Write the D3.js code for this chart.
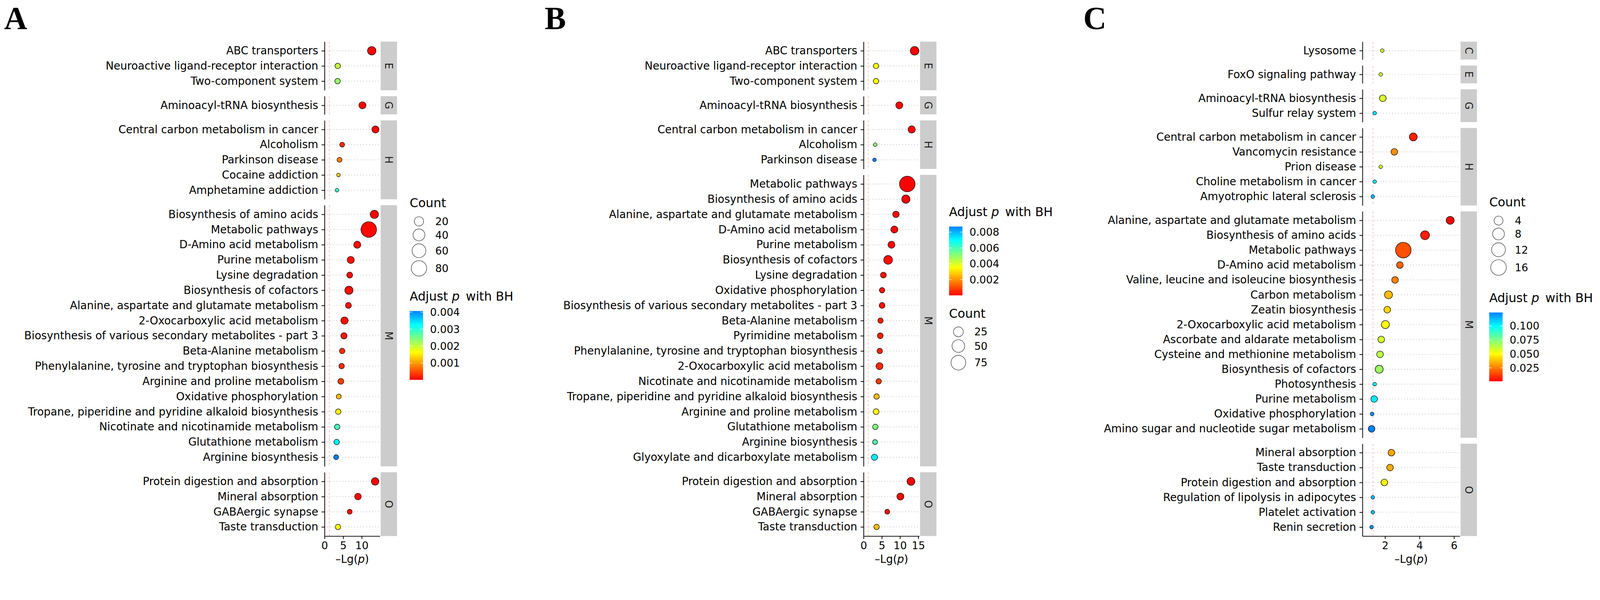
<!DOCTYPE html>
<html lang="en">
<head>
<meta charset="UTF-8">
<title>KEGG enrichment dot plots</title>
<script src="https://cdn.jsdelivr.net/npm/d3@7"></script>
<style>
    html, body { margin: 0; padding: 0; background: #fff; overflow: hidden; }
    svg { display: block; width: 100%; height: auto; }
    svg text { font-family: "DejaVu Sans", sans-serif; fill: #000; }
</style>
</head>
<body>
<script>
	// ---- panel A ----
	var aTerms = ["ABC transporters", "Neuroactive ligand-receptor interaction", "Two-component system",
		"Aminoacyl-tRNA biosynthesis",
		"Central carbon metabolism in cancer", "Alcoholism", "Parkinson disease", "Cocaine addiction", "Amphetamine addiction",
		"Biosynthesis of amino acids", "Metabolic pathways", "D-Amino acid metabolism", "Purine metabolism",
		"Lysine degradation", "Biosynthesis of cofactors", "Alanine, aspartate and glutamate metabolism",
		"2-Oxocarboxylic acid metabolism", "Biosynthesis of various secondary metabolites - part 3",
		"Beta-Alanine metabolism", "Phenylalanine, tyrosine and tryptophan biosynthesis",
		"Arginine and proline metabolism", "Oxidative phosphorylation",
		"Tropane, piperidine and pyridine alkaloid biosynthesis", "Nicotinate and nicotinamide metabolism",
		"Glutathione metabolism", "Arginine biosynthesis",
		"Protein digestion and absorption", "Mineral absorption", "GABAergic synapse", "Taste transduction"];
	var aClass = ["E", "E", "E", "G", "H", "H", "H", "H", "H",
		"M", "M", "M", "M", "M", "M", "M", "M", "M", "M", "M", "M", "M", "M", "M", "M", "M",
		"O", "O", "O", "O"];
	var aLgP = [12.7, 3.55, 3.5, 10.2, 13.7, 4.74, 4.04, 3.76, 3.34,
		13.4, 11.9, 8.8, 7.05, 6.77, 6.56, 6.42, 5.37, 5.23, 4.74, 4.6, 4.39, 3.83, 3.68, 3.4, 3.26, 3.12,
		13.6, 9.0, 6.77, 3.62];
	var aCount = [15, 4, 4, 9, 9, 3, 3, 2, 2,
		14, 82, 9, 9, 5, 14, 5, 10, 6, 4, 4, 5, 3, 4, 4, 4, 3,
		11, 7, 3, 4];
	var aPadj = [0.00002, 0.0020, 0.0023, 0.00003, 0.00001, 0.0003, 0.0008, 0.0013, 0.0029,
		0.00001, 0.00005, 0.0001, 0.0001, 0.0001, 0.0001, 0.0001, 0.0001, 0.00015, 0.0003, 0.0003, 0.0004,
		0.0012, 0.0015, 0.0028, 0.0033, 0.00407,
		0.00001, 0.00005, 0.0001, 0.0016];
	var aLimits = [0, 14.9];
	var aTicks = [0, 5, 10];
	var aCountBreaks = [20, 40, 60, 80];
	var aColourTicks = [0.001, 0.002, 0.003, 0.004];

	// ---- panel B ----
	var bTerms = ["ABC transporters", "Neuroactive ligand-receptor interaction", "Two-component system",
		"Aminoacyl-tRNA biosynthesis",
		"Central carbon metabolism in cancer", "Alcoholism", "Parkinson disease",
		"Metabolic pathways", "Biosynthesis of amino acids", "Alanine, aspartate and glutamate metabolism",
		"D-Amino acid metabolism", "Purine metabolism", "Biosynthesis of cofactors", "Lysine degradation",
		"Oxidative phosphorylation", "Biosynthesis of various secondary metabolites - part 3",
		"Beta-Alanine metabolism", "Pyrimidine metabolism", "Phenylalanine, tyrosine and tryptophan biosynthesis",
		"2-Oxocarboxylic acid metabolism", "Nicotinate and nicotinamide metabolism",
		"Tropane, piperidine and pyridine alkaloid biosynthesis", "Arginine and proline metabolism",
		"Glutathione metabolism", "Arginine biosynthesis", "Glyoxylate and dicarboxylate metabolism",
		"Protein digestion and absorption", "Mineral absorption", "GABAergic synapse", "Taste transduction"];
	var bClass = ["E", "E", "E", "G", "H", "H", "H",
		"M", "M", "M", "M", "M", "M", "M", "M", "M", "M", "M", "M", "M", "M", "M", "M", "M", "M", "M",
		"O", "O", "O", "O"];
	var bLgP = [14.0, 3.44, 3.44, 9.8, 13.2, 3.2, 3.0,
		12.0, 11.6, 8.88, 8.45, 7.65, 6.73, 5.44, 5.08, 5.08, 4.65, 4.58, 4.44, 4.37, 4.15, 3.57, 3.44, 3.22, 3.15, 3.0,
		13.0, 10.1, 6.5, 3.57];
	var bCount = [17, 4, 4, 9, 10, 2, 2,
		87, 15, 7, 9, 9, 18, 5, 4, 5, 4, 5, 4, 9, 4, 4, 5, 4, 3, 6,
		13, 9, 3, 4];
	var bPadj = [0.00001, 0.0035, 0.0035, 0.0001, 0.00001, 0.0050, 0.0087,
		0.00001, 0.00001, 0.0001, 0.0001, 0.0001, 0.0002, 0.0003, 0.0003, 0.0003, 0.0004, 0.0004, 0.0005,
		0.0006, 0.0008, 0.0026, 0.0035, 0.0052, 0.0058, 0.0072,
		0.00001, 0.0001, 0.0002, 0.0026];
	var bLimits = [0, 15.3];
	var bTicks = [0, 5, 10, 15];
	var bCountBreaks = [25, 50, 75];
	var bColourTicks = [0.002, 0.004, 0.006, 0.008];

	// ---- panel C ----
	var cTerms = ["Lysosome",
		"FoxO signaling pathway",
		"Aminoacyl-tRNA biosynthesis", "Sulfur relay system",
		"Central carbon metabolism in cancer", "Vancomycin resistance", "Prion disease",
		"Choline metabolism in cancer", "Amyotrophic lateral sclerosis",
		"Alanine, aspartate and glutamate metabolism", "Biosynthesis of amino acids", "Metabolic pathways",
		"D-Amino acid metabolism", "Valine, leucine and isoleucine biosynthesis", "Carbon metabolism",
		"Zeatin biosynthesis", "2-Oxocarboxylic acid metabolism", "Ascorbate and aldarate metabolism",
		"Cysteine and methionine metabolism", "Biosynthesis of cofactors", "Photosynthesis", "Purine metabolism",
		"Oxidative phosphorylation", "Amino sugar and nucleotide sugar metabolism",
		"Mineral absorption", "Taste transduction", "Protein digestion and absorption",
		"Regulation of lipolysis in adipocytes", "Platelet activation", "Renin secretion"];
	var cClass = ["C", "E", "G", "G", "H", "H", "H", "H", "H",
		"M", "M", "M", "M", "M", "M", "M", "M", "M", "M", "M", "M", "M", "M", "M",
		"O", "O", "O", "O", "O", "O"];
	var cLgP = [1.84, 1.75, 1.87, 1.40, 3.64, 2.54, 1.75, 1.40, 1.29,
		5.78, 4.32, 3.06, 2.86, 2.58, 2.20, 2.13, 2.02, 1.78, 1.71, 1.66, 1.40, 1.37, 1.25, 1.22,
		2.37, 2.29, 1.96, 1.29, 1.29, 1.22];
	var cCount = [1, 1, 2, 1, 3, 2, 1, 1, 1,
		3, 4, 16, 2, 2, 3, 2, 3, 2, 2, 3, 1, 2, 1, 2,
		2, 2, 2, 1, 1, 1];
	var cPadj = [0.058, 0.060, 0.057, 0.103, 0.007, 0.028, 0.058, 0.100, 0.112,
		0.0009, 0.006, 0.016, 0.020, 0.026, 0.037, 0.042, 0.050, 0.058, 0.063, 0.069, 0.100, 0.103, 0.120, 0.124,
		0.033, 0.034, 0.048, 0.112, 0.112, 0.120];
	var cLimits = [0.69, 6.34];
	var cTicks = [2, 4, 6];
	var cCountBreaks = [4, 8, 12, 16];
	var cColourTicks = [0.025, 0.050, 0.075, 0.100];

	// colours of the p gradient, low -> high
	var colourStops = ["#ff0000", "#ff8000", "#ffff00", "#7fff7f", "#00ffff", "#0080ff"];

	// ---- canvas ----
	var width = 4304;
	var height = 1535;
	var plotTop = 112;
	var plotBottom = 1441;
	var facetGap = 16;

	// viewBox so the drawing always fills the window width
	var svg = d3.select("body")
		.append("svg")
		.attr("viewBox", "0 0 " + width + " " + height)
		.attr("preserveAspectRatio", "xMinYMin meet");
	var defs = svg.append("defs");

	var panels = [
		{ id: "A", letterX: 11, terms: aTerms, classes: aClass, lgp: aLgP, count: aCount, padj: aPadj,
			limits: aLimits, ticks: aTicks, countBreaks: aCountBreaks, colourTicks: aColourTicks,
			x0: 873, x1: 1022, legendX: 1102, countTitleY: 545, colourTitleY: 796 },
		{ id: "B", letterX: 1465, terms: bTerms, classes: bClass, lgp: bLgP, count: bCount, padj: bPadj,
			limits: bLimits, ticks: bTicks, countBreaks: bCountBreaks, colourTicks: bColourTicks,
			x0: 2323, x1: 2473, legendX: 2553, countTitleY: 842, colourTitleY: 569 },
		{ id: "C", letterX: 2914, terms: cTerms, classes: cClass, lgp: cLgP, count: cCount, padj: cPadj,
			limits: cLimits, ticks: cTicks, countBreaks: cCountBreaks, colourTicks: cColourTicks,
			x0: 3665, x1: 3927, legendX: 4006, countTitleY: 543, colourTitleY: 800 }
	];

	function styleAxis(g, fontSize) {
		g.attr("font-family", null).attr("font-size", null);
		g.select(".domain").attr("stroke", "#000").attr("stroke-width", 2);
		g.selectAll(".tick line").attr("stroke", "#000").attr("stroke-width", 2);
		g.selectAll(".tick text").attr("font-size", fontSize).attr("fill", "#000");
	}

	function drawPanel(p) {
		var g = svg.append("g");

		// panel letter
		g.append("text")
			.attr("x", p.letterX)
			.attr("y", 78)
			.style("font-family", "'Liberation Serif', 'Times New Roman', serif")
			.attr("font-weight", "bold")
			.attr("font-size", 86)
			.text(p.id);

		var x = d3.scaleLinear().domain(p.limits).range([p.x0, p.x1]);

		// colour: gradient over the range of adjusted p
		var pExt = d3.extent(p.padj);
		var colour = d3.scaleLinear()
			.domain(colourStops.map(function (c, i) {
				return pExt[0] + (pExt[1] - pExt[0]) * i / (colourStops.length - 1);
			}))
			.range(colourStops)
			.interpolate(d3.interpolateRgb);

		// size: area scale over the range of counts
		var cExt = d3.extent(p.count);
		var sizeT = d3.scaleLinear().domain(cExt);
		var sizeR = d3.scaleSqrt().domain([0, 1]).range([4.8, 21]);
		function radius(c) { return sizeR(Math.max(0, sizeT(c))); }

		// facets
		var groups = [];
		p.classes.forEach(function (c) { if (groups.indexOf(c) < 0) groups.push(c); });
		var sizes = groups.map(function (gr) {
			return p.classes.filter(function (c) { return c === gr; }).length;
		});
		var unit = (plotBottom - plotTop - facetGap * (groups.length - 1)) /
			d3.sum(sizes, function (n) { return n + 0.2; });

		var yTop = plotTop;
		groups.forEach(function (gr) {
			var idx = d3.range(p.terms.length).filter(function (i) { return p.classes[i] === gr; });
			var h = unit * (idx.length + 0.2);
			var y = d3.scalePoint()
				.domain(idx.map(function (i) { return p.terms[i]; }))
				.range([yTop, yTop + h])
				.padding(0.6);
			var fg = g.append("g");

			// dotted grid lines
			fg.selectAll("line.grid")
				.data(idx)
				.enter()
				.append("line")
				.attr("class", "grid")
				.attr("x1", p.x0)
				.attr("x2", p.x1)
				.attr("y1", function (i) { return y(p.terms[i]); })
				.attr("y2", function (i) { return y(p.terms[i]); })
				.attr("stroke", "#c4c4c4")
				.attr("stroke-width", 2)
				.attr("stroke-dasharray", "2,6");

			// significance threshold p = 0.05
			fg.append("line")
				.attr("x1", x(-Math.log10(0.05)))
				.attr("x2", x(-Math.log10(0.05)))
				.attr("y1", yTop)
				.attr("y2", yTop + h)
				.attr("stroke", "#ffb3b3")
				.attr("stroke-width", 1.6)
				.attr("stroke-dasharray", "6,5");

			// y axis
			var gy = fg.append("g").attr("transform", "translate(" + p.x0 + ",0)");
			gy.call(d3.axisLeft(y).tickSize(8).tickSizeOuter(0).tickPadding(9));
			styleAxis(gy, 29);

			// points
			fg.selectAll("circle")
				.data(idx)
				.enter()
				.append("circle")
				.attr("cx", function (i) { return x(p.lgp[i]); })
				.attr("cy", function (i) { return y(p.terms[i]); })
				.attr("r", function (i) { return radius(p.count[i]); })
				.attr("fill", function (i) { return colour(p.padj[i]); })
				.attr("stroke", "#000")
				.attr("stroke-width", 1.3);

			// strip
			fg.append("rect")
				.attr("x", p.x1 + 2)
				.attr("y", yTop)
				.attr("width", 44)
				.attr("height", h)
				.attr("fill", "#cccccc");
			fg.append("text")
				.attr("transform", "translate(" + (p.x1 + 24) + "," + (yTop + h / 2) + ") rotate(90)")
				.attr("text-anchor", "middle")
				.attr("dy", "0.36em")
				.attr("font-size", 27)
				.style("fill", "#1a1a1a")
				.text(gr);

			yTop += h + facetGap;
		});

		// x axis
		var gx = g.append("g").attr("transform", "translate(0," + plotBottom + ")");
		gx.call(d3.axisBottom(x).tickValues(p.ticks).tickFormat(d3.format("d"))
			.tickSize(8).tickSizeOuter(0).tickPadding(7));
		styleAxis(gx, 28);

		var xt = g.append("text")
			.attr("x", (p.x0 + p.x1) / 2)
			.attr("y", 1503)
			.attr("dy", "0.36em")
			.attr("text-anchor", "middle")
			.attr("font-size", 29);
		xt.append("tspan").text("\u2013Lg(");
		xt.append("tspan").attr("font-style", "italic").text("p");
		xt.append("tspan").text(")");

		drawCountLegend(g, p.legendX, p.countTitleY, p.countBreaks, radius);
		drawColourLegend(g, p.legendX, p.colourTitleY, p.colourTicks, colour, pExt, "grad" + p.id);
	}

	function drawCountLegend(g, left, titleY, breaks, radius) {
		g.append("text")
			.attr("x", left)
			.attr("y", titleY)
			.attr("dy", "0.36em")
			.attr("font-size", 33)
			.text("Count");
		var maxR = radius(d3.max(breaks));
		var cx = left + 25;
		var yy = titleY + 50 - (radius(breaks[0]) + 4);
		breaks.forEach(function (b) {
			var r = radius(b);
			var kh = 2 * r + 8;
			var cy = yy + kh / 2;
			g.append("circle")
				.attr("cx", cx)
				.attr("cy", cy)
				.attr("r", r)
				.attr("fill", "none")
				.attr("stroke", "#4d4d4d")
				.attr("stroke-width", 1.5);
			g.append("text")
				.attr("x", cx + maxR + 23)
				.attr("y", cy)
				.attr("dy", "0.36em")
				.attr("font-size", 28)
				.text(b);
			yy += kh;
		});
	}

	function drawColourLegend(g, left, titleY, ticks, colour, ext, id) {
		var title = g.append("text")
			.attr("x", left)
			.attr("y", titleY)
			.attr("dy", "0.36em")
			.attr("font-size", 33);
		title.append("tspan").text("Adjust ");
		title.append("tspan").attr("font-style", "italic").text("p");
		title.append("tspan").attr("dx", 6).text(" with BH");

		var barTop = titleY + 40;
		var barH = 185;
		var barW = 36;
		var grad = defs.append("linearGradient")
			.attr("id", id)
			.attr("x1", 0).attr("y1", 1)
			.attr("x2", 0).attr("y2", 0);
		d3.range(0, 21).forEach(function (k) {
			var t = k / 20;
			grad.append("stop")
				.attr("offset", t)
				.attr("stop-color", colour(ext[0] + t * (ext[1] - ext[0])));
		});
		g.append("rect")
			.attr("x", left)
			.attr("y", barTop)
			.attr("width", barW)
			.attr("height", barH)
			.attr("fill", "url(#" + id + ")");

		var yb = d3.scaleLinear().domain(ext).range([barTop + barH, barTop]);
		var fmt = d3.format(".3f");
		ticks.forEach(function (t) {
			var ty = yb(t);
			[[left, left + 7], [left + barW - 7, left + barW]].forEach(function (seg) {
				g.append("line")
					.attr("x1", seg[0]).attr("x2", seg[1])
					.attr("y1", ty).attr("y2", ty)
					.attr("stroke", "#fff")
					.attr("stroke-opacity", 0.8)
					.attr("stroke-width", 1.5);
			});
			g.append("text")
				.attr("x", left + 55)
				.attr("y", ty)
				.attr("dy", "0.36em")
				.attr("font-size", 28)
				.text(fmt(t));
		});
	}

	panels.forEach(drawPanel);
</script>
</body>
</html>
